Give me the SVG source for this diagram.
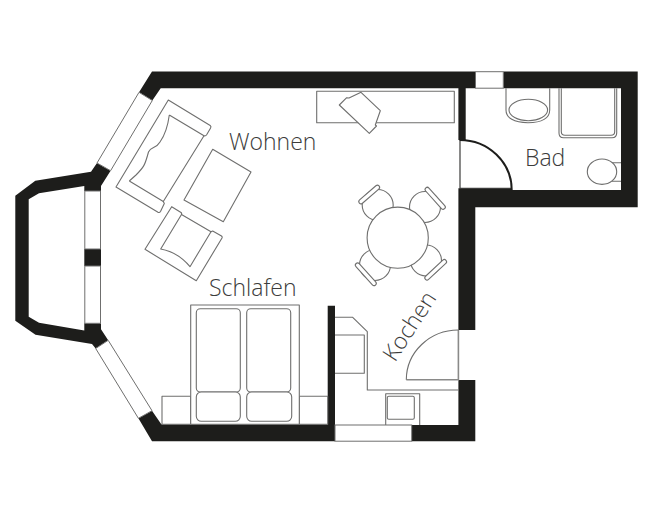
<svg xmlns="http://www.w3.org/2000/svg" width="650" height="506" viewBox="0 0 650 506">
<style>
.wall{fill:#1d1d1b;stroke:none}
.ln{fill:none;stroke:#6f6f6e;stroke-width:1.1;stroke-linejoin:round}
.f{fill:#fff;stroke:#6f6f6e;stroke-width:1.1;stroke-linejoin:round}
.win{fill:#fff;stroke:#6f6f6e;stroke-width:1}
.t{font-family:"Open Sans",sans-serif;font-weight:300;font-size:23px;fill:#3c3c3b}
</style>
<rect width="650" height="506" fill="#fff"/>
<g id="walls">
<path class="wall" d="M152 71.5H475.3V88.3H465.7V140H458.4V88.3H160.7L152.3 100.5L139 92.3Z"/>
<path class="wall" d="M503.3 71.5H637.7V207.3H475.3V330H458.4V188.3H511.5L512 190H621V88.3H503.3Z"/>
<path class="wall" d="M97 163L110.6 170.7L101 186V191H84.3V186L39 193.3L28.7 199.3V316.7L39 322.7L84.3 330.5V323.3H101V329.3L108.2 340.3L95.7 348.5L92 344L35.5 334.7L15.3 320.7V195.7L35.3 180.7L91 171.7Z"/>
<rect class="wall" x="84.3" y="249" width="16.7" height="17"/>
<path class="wall" d="M138.4 418.3L152 410.7L161.3 424.3H327.7V305.8H335V441.3H152Z"/>
<path class="wall" d="M458.4 380H475.3V441.3H411.7V425H458.4Z"/>
</g>
<g id="windows">
<path class="win" d="M139 92.3L152.3 100.5L110.6 170.7L97 163Z"/>
<rect class="win" x="84.8" y="191" width="15.7" height="58"/>
<rect class="win" x="84.8" y="266" width="15.7" height="57.3"/>
<path class="win" d="M108.2 340.3L152 410.7L138.4 418.3L95.7 348.5Z"/>
<rect class="win" x="475.5" y="71.7" width="27.8" height="16.5" />
<rect class="win" x="335" y="425" width="76.7" height="16.2"/>
</g>
<g id="sofa">
<path class="f" d="M168.3 100L210.2 125.5Q211.5 126.5 210.6 128L206.5 135Q205.5 136.2 204 135.7L163.3 201.5L164.3 203.5L160.5 211.5Q159.5 213 158 212.2L116 187Z"/>
<path class="ln" d="M169.3 115L204 135.7M163.3 201.5L129.3 181M169.3 115C168 125 165 135 160 142C156 149 151 146 148.5 152C145 165 144 167 136 175L129.3 181"/>
</g>
<g id="coffee-table"><path class="f" d="M212.7 149.3L251 172L223.3 221.7L184 200Z"/></g>
<g id="armchair">
<path class="f" d="M171.7 206.7L181 212.5Q182 213.5 181.5 214.5L211 231.7L212.7 231L221.5 236Q222.5 237 222 238L196.3 280.7L145 249.3Z"/>
<path class="ln" d="M181.5 214.5L160.7 249C172 251 182 257 190 266.7L211 231.7"/>
</g>
<g id="bed">
<rect class="f" x="162" y="396.3" width="28.7" height="28"/>
<rect class="f" x="299.3" y="396.3" width="28.4" height="28"/>
<rect class="f" x="190.7" y="305" width="108.6" height="119.3"/>
<rect class="ln" x="196.3" y="308.7" width="44" height="83.3" rx="4"/>
<rect class="ln" x="246.7" y="308.7" width="44" height="83.3" rx="4"/>
<rect class="f" x="196.3" y="392" width="44" height="29.3" rx="5"/>
<rect class="f" x="246.7" y="392" width="45" height="29.3" rx="5"/>
</g>
<g id="desk">
<rect class="ln" x="316.7" y="91.3" width="137.6" height="31.4"/>
<path class="f" d="M339.3 105L346.7 97.7L349 98L361 92.3L380.3 110.7L375.3 125L376.5 126L369.3 133.3Z"/>
</g>
<g id="dining">
<circle class="f" cx="377.7" cy="205" r="15.5"/>
<circle class="f" cx="425" cy="207" r="15.5"/>
<circle class="f" cx="426" cy="260.5" r="15.5"/>
<circle class="f" cx="375" cy="265" r="15.5"/>
<circle class="f" cx="397.7" cy="237.7" r="30.6"/>
<g fill="#fff" stroke="#6f6f6e" stroke-width="1.1">
<rect x="-13" y="-2.2" width="26" height="4.4" rx="2.2" transform="translate(369.2 194.5) rotate(-41)"/>
<rect x="-14" y="-2.2" width="28" height="4.4" rx="2.2" transform="translate(435.2 198.3) rotate(48)"/>
<rect x="-14" y="-2.2" width="28" height="4.4" rx="2.2" transform="translate(435.7 269.8) rotate(-43)"/>
<rect x="-14.5" y="-2.2" width="29" height="4.4" rx="2.2" transform="translate(365.8 274.3) rotate(48)"/>
</g>
</g>
<g id="bath">
<path class="ln" d="M506 88.3V110C506 118 514 122.7 528 122.7C542 122.7 549.7 118 549.7 110V88.3"/>
<ellipse class="ln" cx="528.3" cy="110" rx="19.3" ry="10.7"/>
<path class="ln" d="M559 88.3V133Q559 137.7 563.5 137.7H612Q616.7 137.7 616.7 133V88.3"/>
<path class="ln" d="M561.3 88.3V131.5Q561.3 135.3 565 135.3H611Q614.7 135.3 614.7 131.5V88.3"/>
<path class="ln" d="M611 162.7H621M611 181.3H621"/>
<ellipse class="f" cx="602" cy="171.7" rx="14.7" ry="12.7"/>
</g>
<g id="bath-door">
<path d="M460 140.3V188.3H511.5" fill="none" stroke="#3c3c3b" stroke-width="1.2"/>
<path d="M459.5 140A52 50 0 0 1 511.7 190" fill="none" stroke="#1d1d1b" stroke-width="2"/>
</g>
<g id="kitchen">
<path class="ln" d="M335 317.3H352.7L367.3 331.7V390H458.4"/>
<path class="ln" d="M335 335H364.3V373.3H335"/>
<path class="ln" d="M385.7 425V393.7H419.7V425"/>
<rect class="ln" x="387.3" y="396.3" width="27" height="23" rx="1.5"/>
</g>
<g id="entry-door">
<path d="M458.4 330V379.7H406.3" fill="none" stroke="#8a8a89" stroke-width="1.6"/>
<path d="M458.4 330A52 50 0 0 0 406.3 379.7" fill="none" stroke="#6f6f6e" stroke-width="1.1"/>
</g>
<g id="labels">
<text class="t" x="229" y="150">Wohnen</text>
<text class="t" x="209" y="296">Schlafen</text>
<text class="t" x="525" y="166">Bad</text>
<text class="t" transform="translate(395 363) rotate(-57)">Kochen</text>
</g>
</svg>
